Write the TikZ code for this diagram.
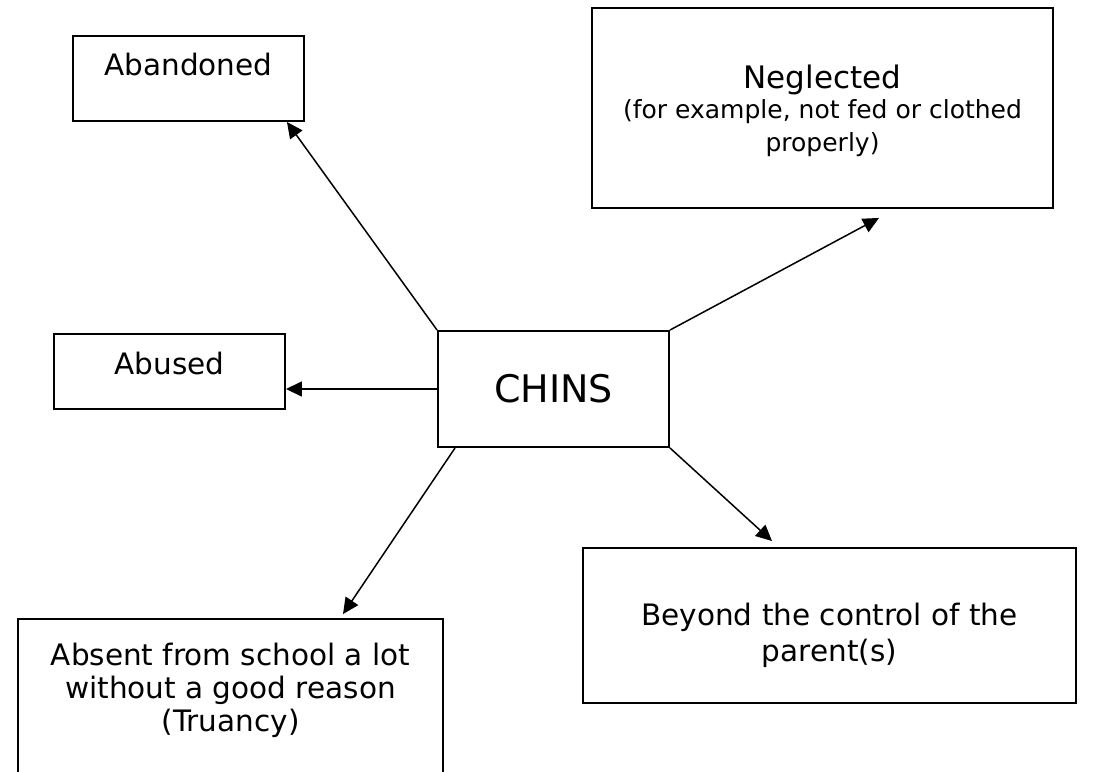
\documentclass[tikz,border=0pt]{standalone}
\usepackage{fontspec}
\setmainfont{DejaVu Sans}
\usetikzlibrary{arrows.meta}

\begin{document}
\begin{tikzpicture}
  [x=1pt,y=-1pt,
   box/.style={draw,line width=1.9pt,inner sep=0pt},
   lbl/.style={align=center,inner sep=0pt,font=\fontsize{29.5}{33}\selectfont},
   link/.style={line width=1.5pt,-{Triangle[length=16pt,width=15pt]}}]
  \clip (0,0) rectangle (1110,771);
  \fill[white] (0,0) rectangle (1110,771);
  % the six boxes
  \node[box,minimum width=231,minimum height=85] (aband) at (188.5,78.5) {};
  \node[box,minimum width=461,minimum height=200] (negl) at (822.5,108) {};
  \node[box,minimum width=231,minimum height=75] (abused) at (169.5,371.5) {};
  \node[box,minimum width=231,minimum height=116,font=\fontsize{38}{40}\selectfont] (chins) at (553.5,389) {CHINS};
  \node[box,minimum width=493,minimum height=155] (beyond) at (829.5,625.5) {};
  \node[box,minimum width=425,minimum height=182] (absent) at (230.5,710) {};
  % their texts
  \node[lbl] (aband-t) at (188.5,65) {Abandoned};
  \node[lbl] (negl-t) at (822.5,111)
    {{\fontsize{31}{33}\selectfont Neglected}\\[-3pt]{\fontsize{25}{29}\selectfont (for example, not fed or clothed}\\
     {\fontsize{25}{29}\selectfont properly)}};
  \node[lbl] (abused-t) at (169.5,363) {Abused};
  \node[lbl] (beyond-t) at (829.5,635)
    {Beyond the control of the\\[3pt] parent(s)};
  \node[lbl] (absent-t) at (230.5,690)
    {Absent from school a lot\\ without a good reason\\ (Truancy)};
  % arrows out of CHINS
  \draw[link] (chins.north west) -- ([xshift=-18pt]aband.south east);
  \draw[link] (chins.north east) -- ([xshift=56.5pt,yshift=-9pt]negl.south);
  \draw[link] (chins.west) -- (chins.west -| abused.east);
  \draw[link] ([xshift=18pt]chins.south west) -- ([xshift=112.5pt,yshift=4pt]absent.north);
  \draw[link] (chins.south east) -- ([xshift=-57.5pt,yshift=6pt]beyond.north);
\end{tikzpicture}
\end{document}
